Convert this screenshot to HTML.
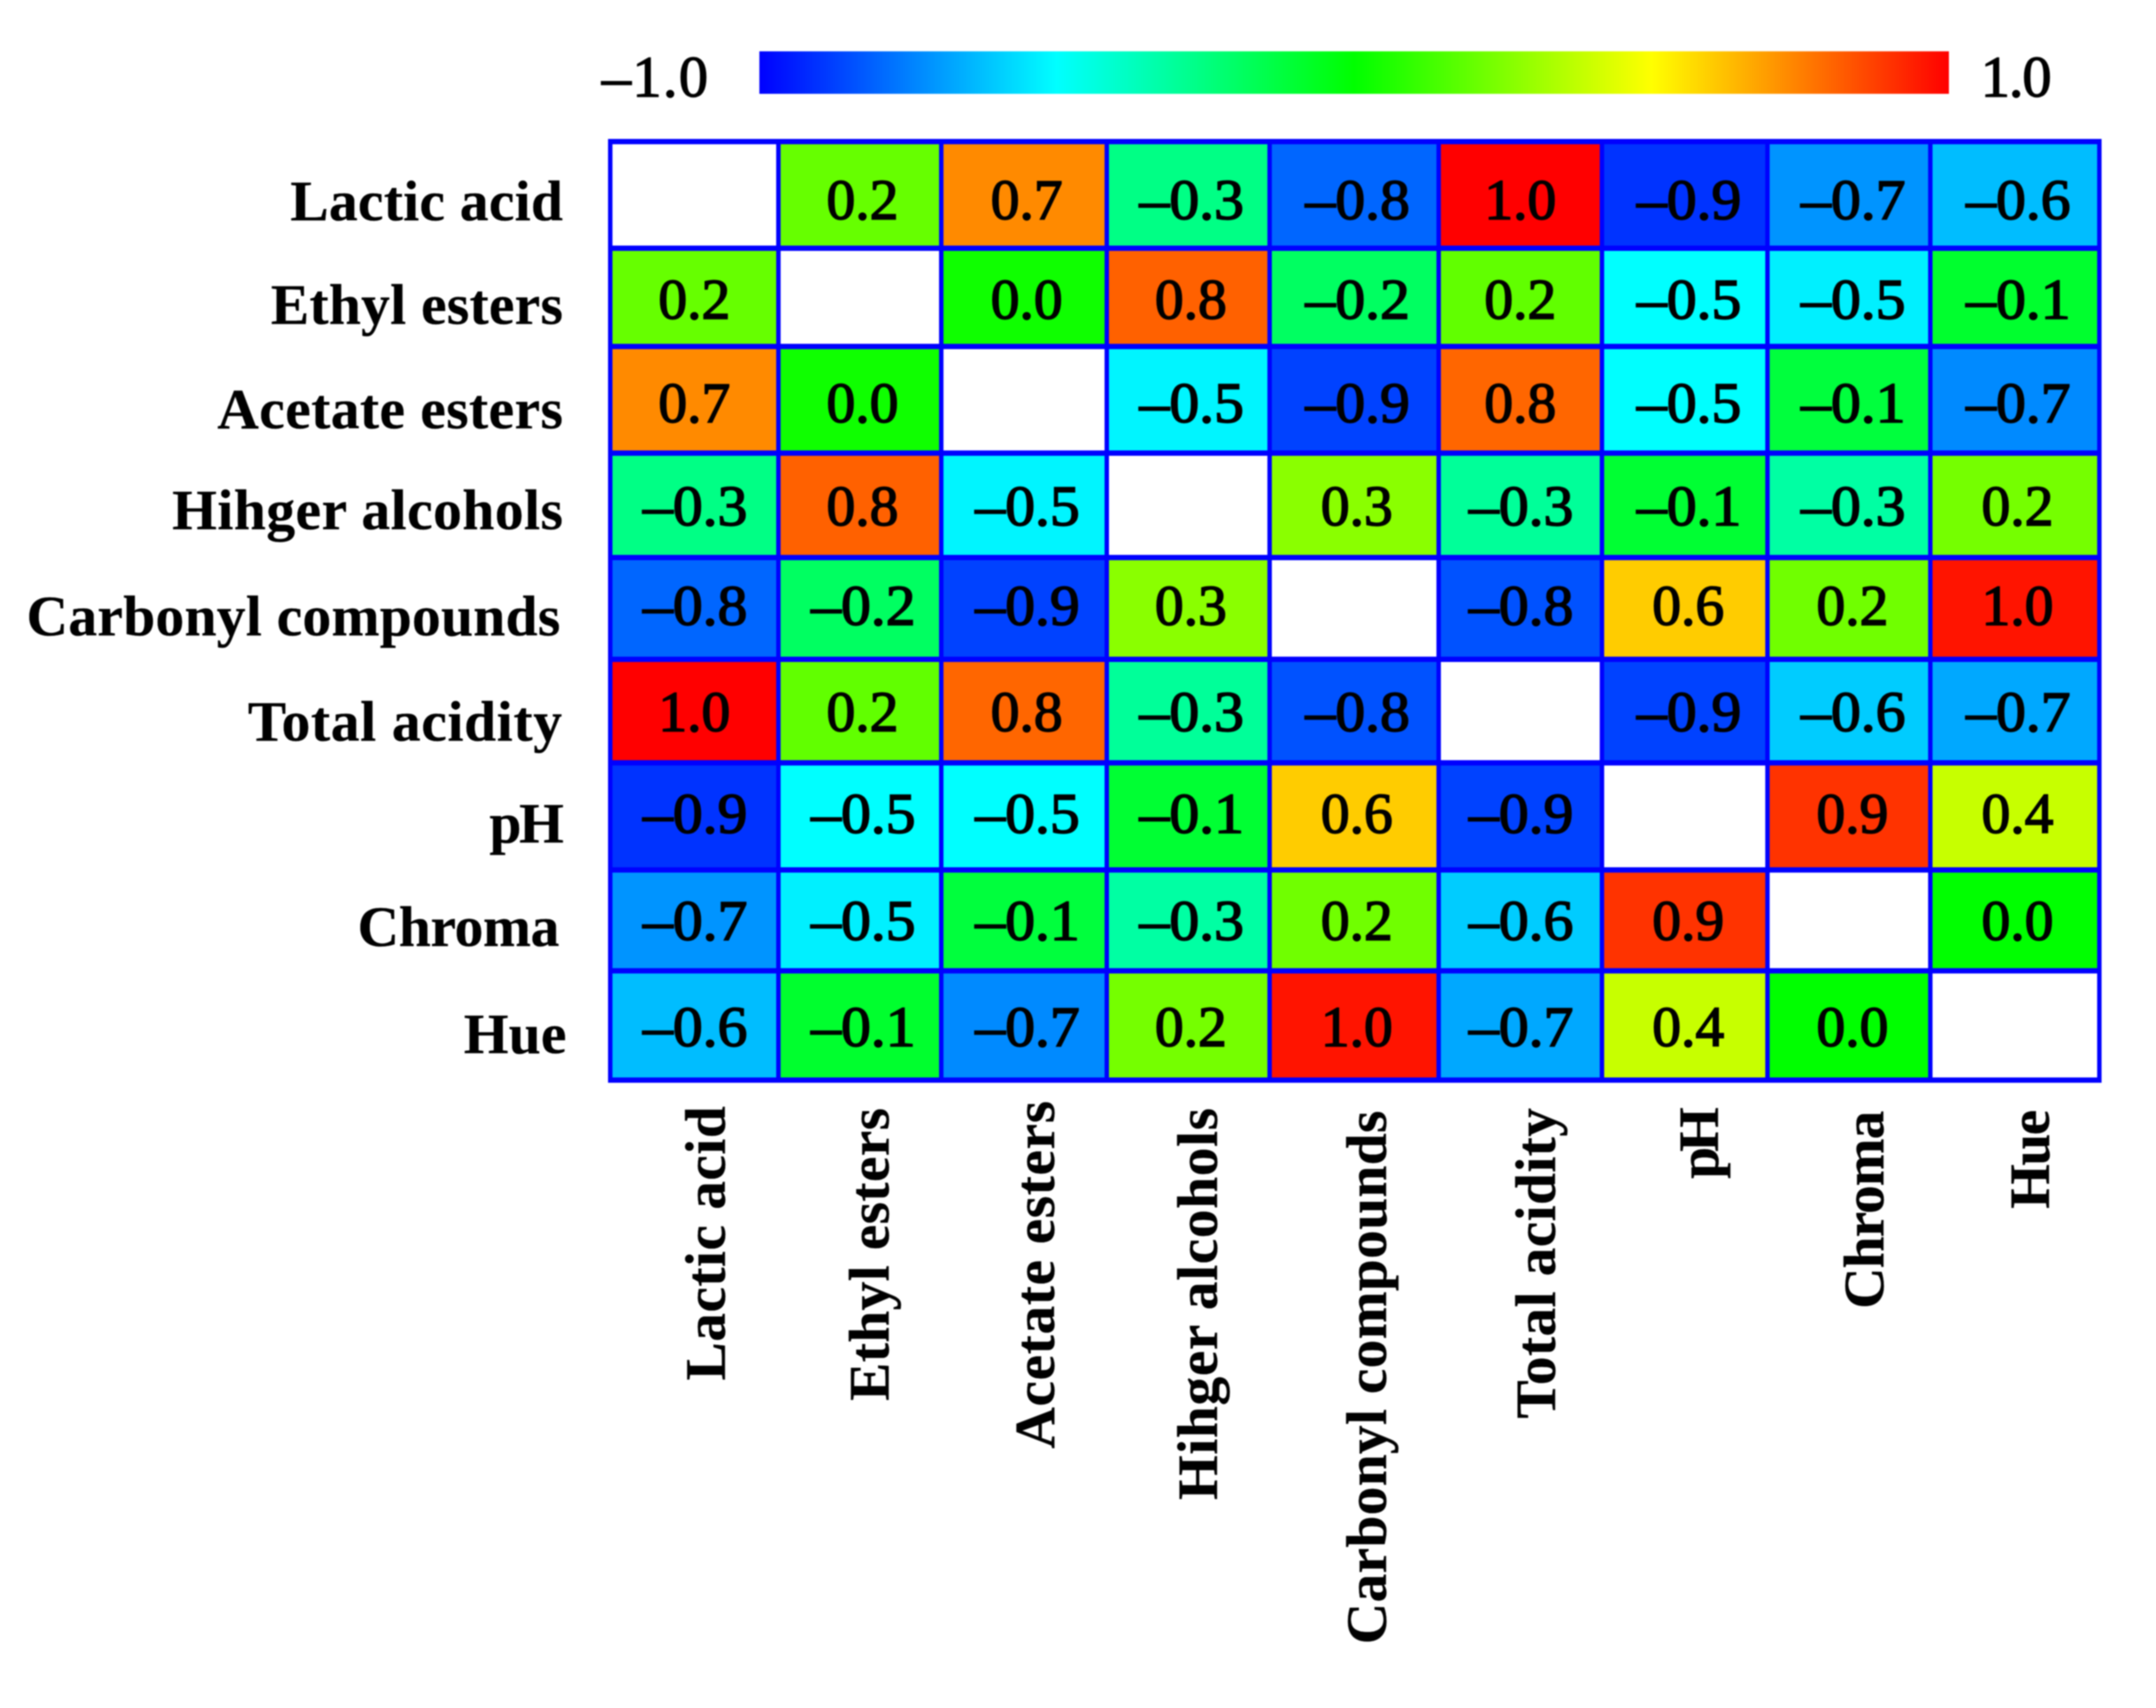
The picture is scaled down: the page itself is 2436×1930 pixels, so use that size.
<!DOCTYPE html>
<html lang="en">
<head>
<meta charset="utf-8">
<title>Correlation heatmap</title>
<style>
  html, body { margin: 0; padding: 0; background: #fff; }
  body { width: 2436px; height: 1930px; overflow: hidden; }
  svg { display: block; filter: blur(0.7px); }
  text { font-family: "Liberation Serif", "Times New Roman", serif; fill: #000; }
  .axis-label { font-size: 65px; font-weight: bold; stroke: #000; stroke-width: 0.3px; }
  .cell-label { font-size: 65px; stroke: #000; stroke-width: 1.7px; text-anchor: middle; }
  .bar-label { font-size: 66px; stroke: #000; stroke-width: 1.4px; }
</style>
</head>
<body>
<svg id="chart" xmlns="http://www.w3.org/2000/svg" width="2436" height="1930" viewBox="0 0 2436 1930">
  <defs>
    <linearGradient id="jet" x1="0" y1="0" x2="1" y2="0">
      <stop offset="0" stop-color="#0000ff"/>
      <stop offset="0.25" stop-color="#00ffff"/>
      <stop offset="0.5" stop-color="#00ff00"/>
      <stop offset="0.75" stop-color="#ffff00"/>
      <stop offset="1" stop-color="#ff0000"/>
    </linearGradient>
  </defs>
  <rect x="0" y="0" width="2436" height="1930" fill="#ffffff"/>
  <rect x="858" y="58" width="1344" height="48" fill="url(#jet)"/>
  <text class="bar-label" x="680" y="109" textLength="120">–1.0</text>
  <text class="bar-label" x="2238" y="109" textLength="80">1.0</text>
  <g id="cells"></g>
  <g id="grid"></g>
  <g id="values"></g>
  <g id="y-labels"></g>
  <g id="x-labels"></g>
</svg>
<script>
const categories = ["Lactic acid", "Ethyl esters", "Acetate esters", "Hihger alcohols", "Carbonyl compounds", "Total acidity", "pH", "Chroma", "Hue"];

const lacticAcidRow = [null, 0.20, 0.73, -0.26, -0.80, 1.00, -0.90, -0.71, -0.63];
const ethylEstersRow = [0.20, null, 0.03, 0.81, -0.19, 0.19, -0.50, -0.53, -0.09];
const acetateEstersRow = [0.73, 0.03, null, -0.52, -0.87, 0.80, -0.50, -0.12, -0.73];
const higherAlcoholsRow = [-0.26, 0.81, -0.52, null, 0.27, -0.30, -0.10, -0.32, 0.23];
const carbonylCompoundsRow = [-0.80, -0.19, -0.87, 0.27, null, -0.84, 0.60, 0.22, 0.96];
const totalAcidityRow = [1.00, 0.19, 0.80, -0.30, -0.84, null, -0.87, -0.60, -0.67];
const phRow = [-0.90, -0.50, -0.50, -0.10, 0.60, -0.87, null, 0.90, 0.39];
const chromaRow = [-0.71, -0.53, -0.12, -0.32, 0.22, -0.60, 0.90, null, 0.00];
const hueRow = [-0.63, -0.09, -0.73, 0.23, 0.96, -0.67, 0.39, 0.00, null];

const matrix = [lacticAcidRow, ethylEstersRow, acetateEstersRow, higherAlcoholsRow, carbonylCompoundsRow, totalAcidityRow, phRow, chromaRow, hueRow];

const SVG_NS = "http://www.w3.org/2000/svg";

/* Irregular band axes: the source figure's bands are not evenly spaced. */
function xEdge(i) {
  const edges = [689.5, 879.5, 1063.5, 1250.5, 1434.5, 1625.5, 1810, 1997, 2181, 2372];
  return edges[i];
}
function yEdge(i) {
  const edges = [160, 280.5, 391.5, 512, 630, 745, 862, 983, 1097, 1220.5];
  return edges[i];
}
function xCenter(i) {
  const nudges = [0, 3, 3, 3, 3, 0, 4, 4, 3];
  return (xEdge(i) + xEdge(i + 1)) / 2 + nudges[i];
}
function yBaseline(i) {
  const offsets = [27, 24, 25, 22.5, 18.5, 22.5, 18.5, 22, 23];
  return (yEdge(i) + yEdge(i + 1)) / 2 + offsets[i];
}

/* Jet-style colour scale: -1 blue, -0.5 cyan, 0 green, 0.5 yellow, 1 red */
function colorOf(v) {
  const t = Math.max(-1, Math.min(1, v));
  let r = 0, g = 0, b = 0;
  if (t < -0.5) { g = (t + 1) * 2 * 255; b = 255; }
  else if (t < 0) { g = 255; b = -t * 2 * 255; }
  else if (t < 0.5) { r = t * 2 * 255; g = 255; }
  else { r = 255; g = (1 - t) * 2 * 255; }
  return "rgb(" + Math.round(r) + "," + Math.round(g) + "," + Math.round(b) + ")";
}
function formatValue(v) {
  const s = Math.abs(v).toFixed(1);
  return v < 0 ? "–" + s : s;
}
function make(tag, parent) {
  const el = document.createElementNS(SVG_NS, tag);
  parent.appendChild(el);
  return el;
}

const cellsGroup = document.getElementById("cells");
const valuesGroup = document.getElementById("values");
const gridGroup = document.getElementById("grid");
const yGroup = document.getElementById("y-labels");
const xGroup = document.getElementById("x-labels");

matrix.forEach(function (row, r) {
  row.forEach(function (value, c) {
    const rect = make("rect", cellsGroup);
    
    
    rect.setAttribute("x", xEdge(c));
    rect.setAttribute("y", yEdge(r));
    rect.setAttribute("width", xEdge(c + 1) - xEdge(c));
    rect.setAttribute("height", yEdge(r + 1) - yEdge(r));
    rect.setAttribute("fill", value === null ? "#ffffff" : colorOf(value));
    if (value !== null) {
      const negative = formatValue(value).charAt(0) === "–";
      const label = make("text", valuesGroup);
      
      
      label.setAttribute("class", "cell-label");
      label.setAttribute("x", xCenter(c) + (negative ? 1 : 0));
      label.setAttribute("y", yBaseline(r));
      if (negative) {
        label.setAttribute("textLength", "118");
        label.setAttribute("lengthAdjust", "spacingAndGlyphs");
      }
      label.textContent = formatValue(value);
    }
  });
});

for (let i = 0; i <= categories.length; i++) {
  const v = make("line", gridGroup);
  
  
  v.setAttribute("x1", xEdge(i));
  v.setAttribute("x2", xEdge(i));
  v.setAttribute("y1", yEdge(0));
  v.setAttribute("y2", yEdge(categories.length));
  v.setAttribute("stroke", "#0000ff");
  v.setAttribute("stroke-width", "5");

  const h = make("line", gridGroup);
  
  
  h.setAttribute("x1", xEdge(0) - 2.5);
  h.setAttribute("x2", xEdge(categories.length) + 2.5);
  h.setAttribute("y1", yEdge(i));
  h.setAttribute("y2", yEdge(i));
  h.setAttribute("stroke", "#0000ff");
  h.setAttribute("stroke-width", "6");
}

function drawYLabels() {
  const lefts = [328, 306, 245.5, 194.5, 30, 280, 553, 404, 524];
  const rights = [636, 636, 636, 636, 633, 635, 637, 632, 640];
  const baselines = [249, 366, 484, 598, 718, 837, 952, 1069, 1190];
  categories.forEach(function (name, i) {
    const t = make("text", yGroup);
    
    
    t.setAttribute("class", "axis-label");
    t.setAttribute("x", lefts[i]);
    t.setAttribute("y", baselines[i]);
    t.setAttribute("textLength", rights[i] - lefts[i]);
    t.textContent = name;
  });
}
function drawXLabels() {
  const baselineX = [819, 1004, 1191, 1375, 1566, 1757, 1941, 2128, 2315];
  const tops = [1250, 1252, 1244, 1252, 1255, 1252, 1251, 1255, 1254];
  const bottoms = [1560, 1583, 1637, 1695, 1858, 1603, 1332, 1479, 1366];
  categories.forEach(function (name, i) {
    const t = make("text", xGroup);
    
    
    t.setAttribute("class", "axis-label");
    t.setAttribute("x", baselineX[i]);
    t.setAttribute("y", bottoms[i]);
    t.setAttribute("transform", "rotate(-90 " + baselineX[i] + " " + bottoms[i] + ")");
    t.setAttribute("textLength", bottoms[i] - tops[i]);
    t.textContent = name;
  });
}
drawYLabels();
drawXLabels();
</script>
</body>
</html>
